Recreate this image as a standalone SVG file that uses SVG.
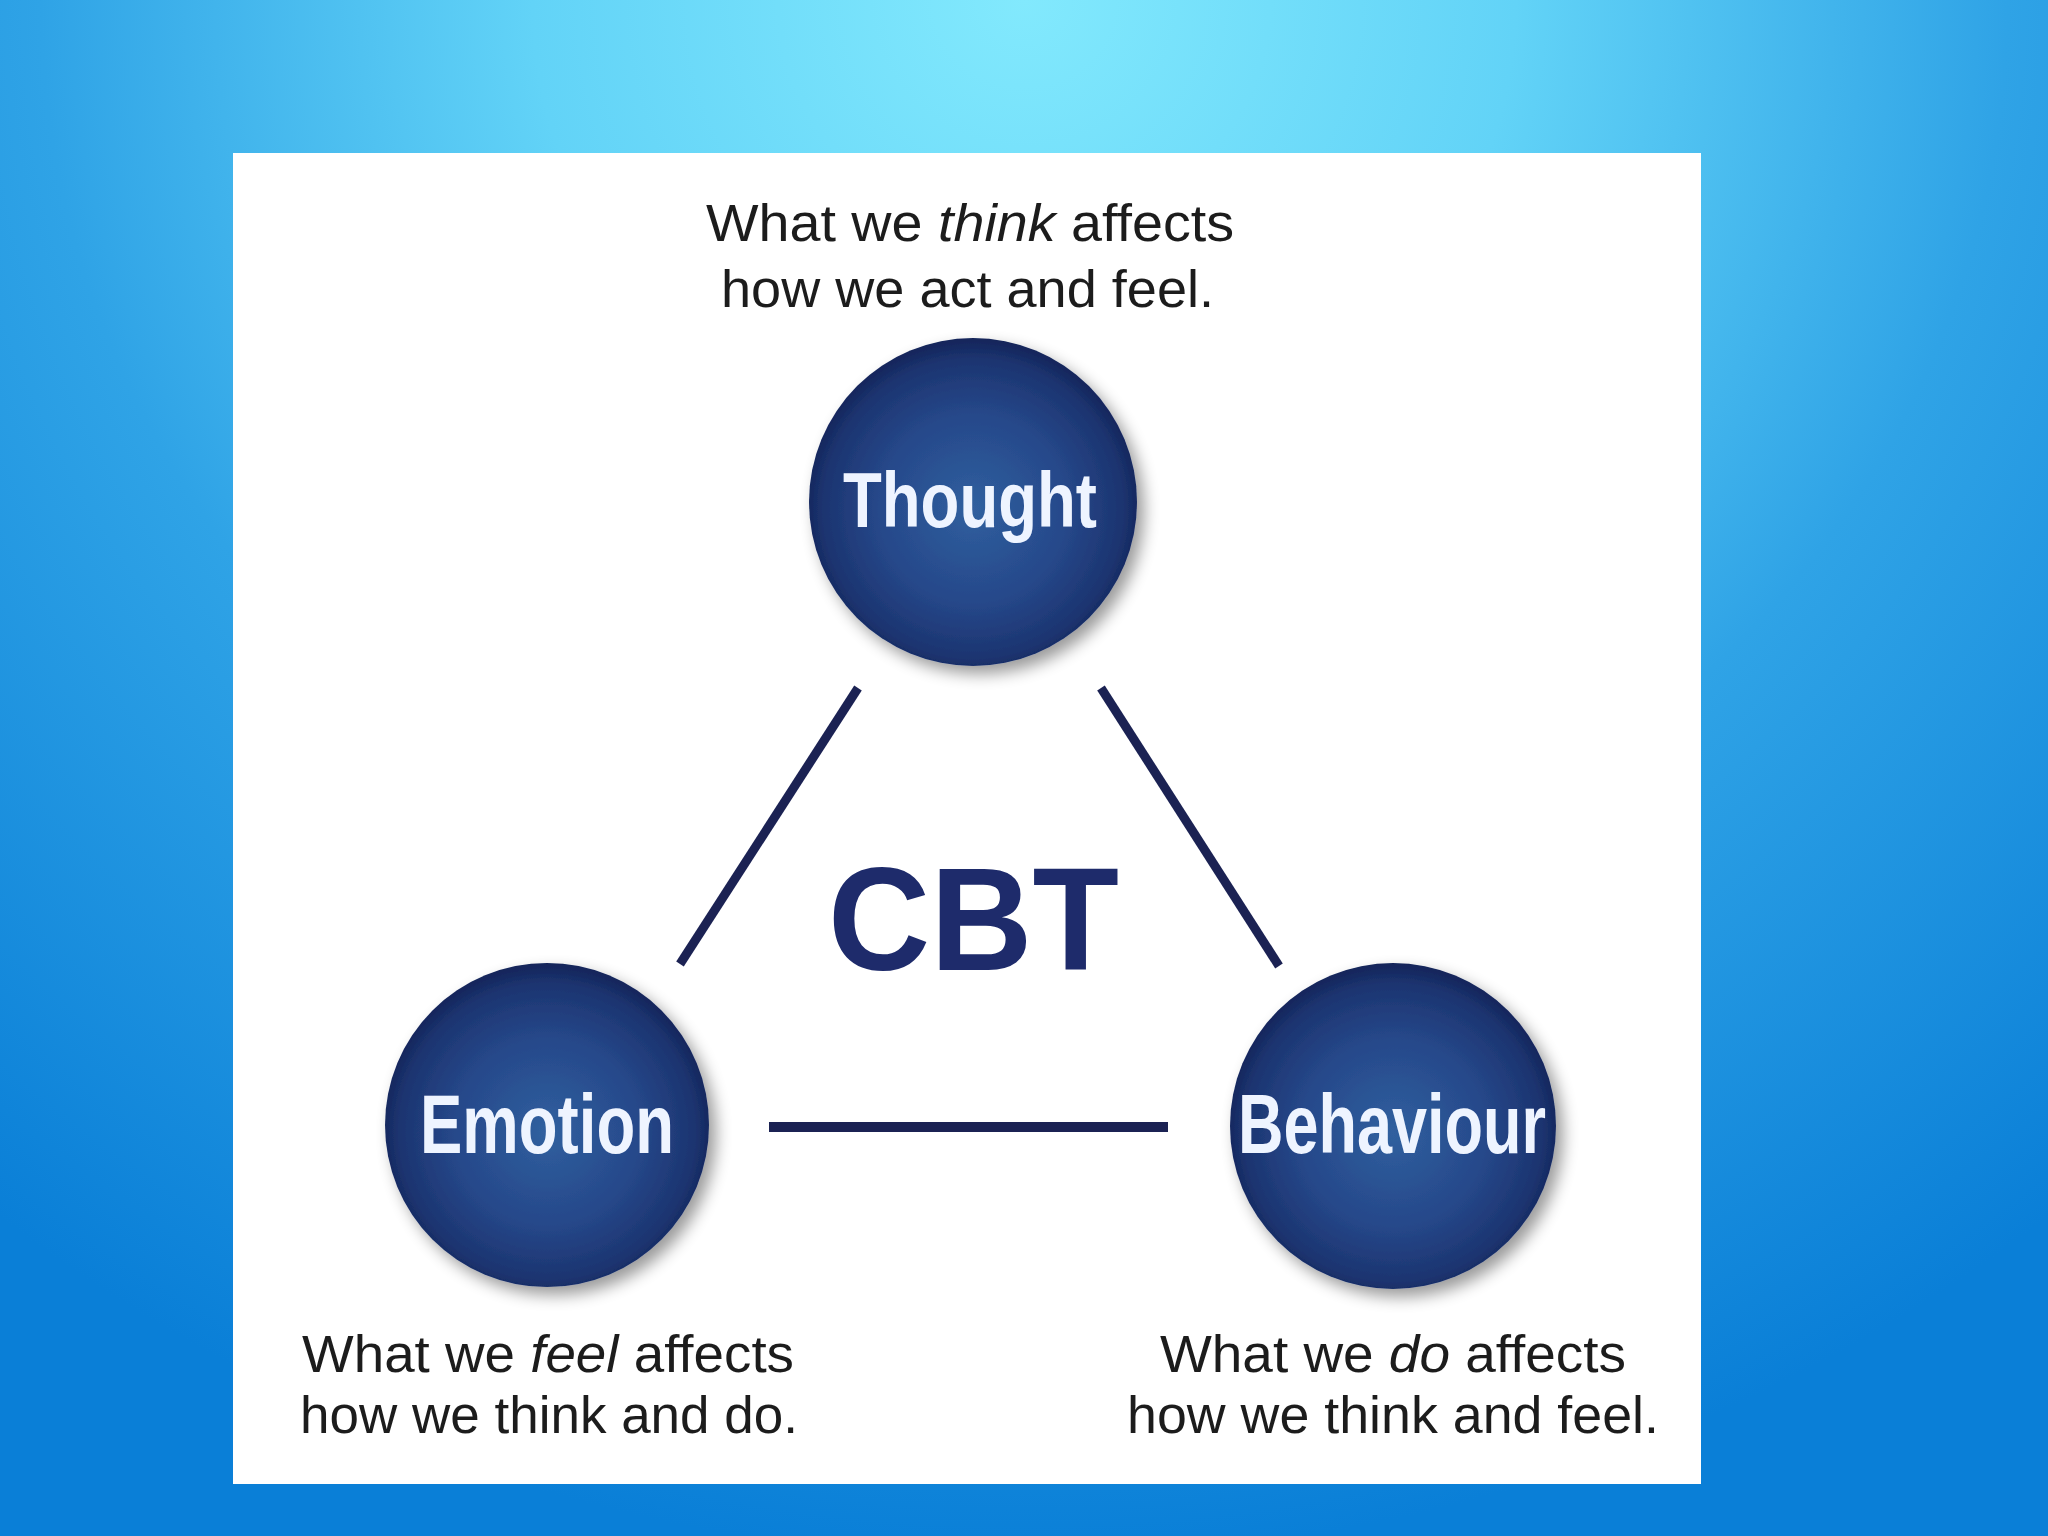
<svg xmlns="http://www.w3.org/2000/svg" width="2048" height="1536" viewBox="0 0 2048 1536">
  <defs>
    <radialGradient id="bg" gradientUnits="userSpaceOnUse" cx="1024" cy="0" r="1560" gradientTransform="translate(1024 0) scale(1.05 1) translate(-1024 0)">
      <stop offset="0" stop-color="#82e9fd"/>
      <stop offset="0.3" stop-color="#62d3f7"/>
      <stop offset="0.6" stop-color="#2fa3e6"/>
      <stop offset="1" stop-color="#0a7fd7"/>
    </radialGradient>
    <radialGradient id="ball" cx="50%" cy="52%" r="52%">
      <stop offset="0" stop-color="#30609f"/>
      <stop offset="0.55" stop-color="#26488a"/>
      <stop offset="0.88" stop-color="#1c3470"/>
      <stop offset="1" stop-color="#132459"/>
    </radialGradient>
    <filter id="shadow" x="-20%" y="-20%" width="150%" height="150%">
      <feGaussianBlur in="SourceAlpha" stdDeviation="8"/>
      <feOffset dx="7" dy="8" result="b"/>
      <feComponentTransfer><feFuncA type="linear" slope="0.4"/></feComponentTransfer>
      <feMerge><feMergeNode/><feMergeNode in="SourceGraphic"/></feMerge>
    </filter>
  </defs>
  <style>
    .ball { fill: url(#ball); filter: url(#shadow); }
    .nlabel { font-family: "Liberation Sans", Arial, sans-serif; font-weight: bold; fill: #eef4ff; }
    .desc { font-family: "Liberation Sans", Arial, sans-serif; font-size: 51px; fill: #1c1c1c; }
    .desc .em { font-style: italic; }
    .conn { stroke: #1b2253; stroke-width: 9; stroke-linecap: butt; fill: none; }
    .title { font-family: "Liberation Sans", Arial, sans-serif; font-weight: bold; font-size: 146px; fill: #1e2b6b; }
  </style>

  <rect x="0" y="0" width="2048" height="1536" fill="url(#bg)"/>
  <rect x="233" y="153" width="1468" height="1331" fill="#ffffff"/>

  <g id="connectors">
    <line class="conn" x1="858" y1="688" x2="680" y2="964"/>
    <line class="conn" x1="1101" y1="688" x2="1279" y2="966"/>
    <line class="conn" x1="769" y1="1127" x2="1168" y2="1127" style="stroke-width:10"/>
  </g>

  <g id="center-label">
    <text class="title" x="828" y="970" textLength="291" lengthAdjust="spacingAndGlyphs">CBT</text>
  </g>

  <g id="node-thought">
    <circle class="ball" cx="973" cy="502" r="164"/>
    <text class="nlabel" x="843" y="527" font-size="77" textLength="254" lengthAdjust="spacingAndGlyphs">Thought</text>
    <text class="desc" x="706" y="241" textLength="528" lengthAdjust="spacingAndGlyphs">What we <tspan class="em">think</tspan> affects</text>
    <text class="desc" x="721" y="307" textLength="493" lengthAdjust="spacingAndGlyphs">how we act and feel.</text>
  </g>

  <g id="node-emotion">
    <circle class="ball" cx="547" cy="1125" r="162"/>
    <text class="nlabel" x="420" y="1153" font-size="83" textLength="254" lengthAdjust="spacingAndGlyphs">Emotion</text>
    <text class="desc" x="302" y="1372" textLength="492" lengthAdjust="spacingAndGlyphs">What we <tspan class="em">feel</tspan> affects</text>
    <text class="desc" x="300" y="1433" textLength="498" lengthAdjust="spacingAndGlyphs">how we think and do.</text>
  </g>

  <g id="node-behaviour">
    <circle class="ball" cx="1393" cy="1126" r="163"/>
    <text class="nlabel" x="1238" y="1153" font-size="83" textLength="308" lengthAdjust="spacingAndGlyphs">Behaviour</text>
    <text class="desc" x="1160" y="1372" textLength="466" lengthAdjust="spacingAndGlyphs">What we <tspan class="em">do</tspan> affects</text>
    <text class="desc" x="1127" y="1433" textLength="532" lengthAdjust="spacingAndGlyphs">how we think and feel.</text>
  </g>
</svg>
